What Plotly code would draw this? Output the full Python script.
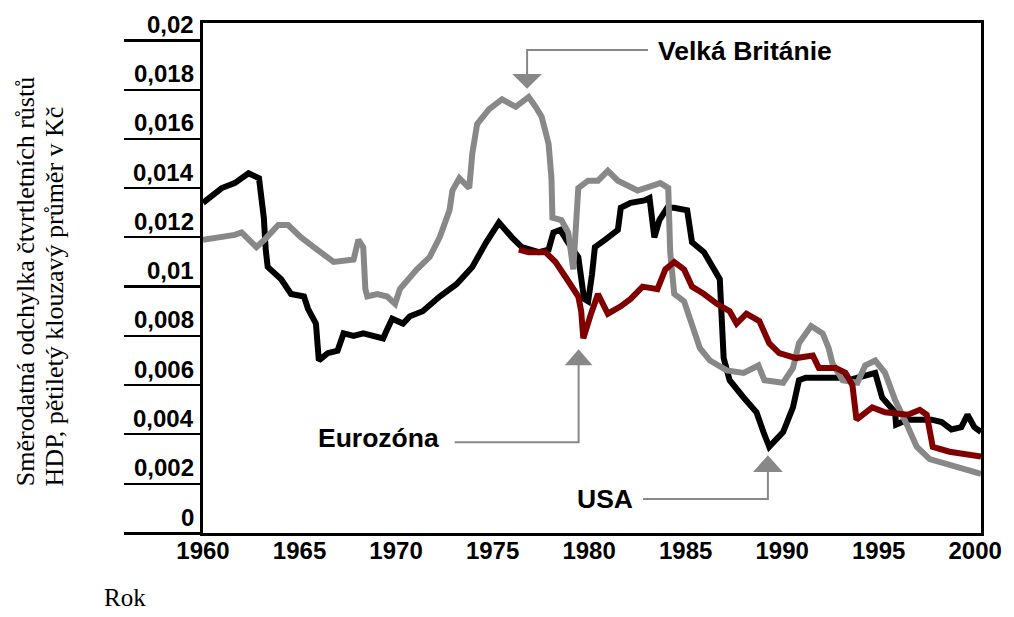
import plotly.graph_objects as go

# ---------------- data ----------------
usa_year = [1960.0, 1960.97, 1961.64, 1962.36, 1962.9, 1963.15, 1963.25, 1963.35, 1964.05, 1964.56,
            1965.23, 1965.44, 1965.85, 1966.0, 1966.46, 1966.97, 1967.28, 1967.8, 1968.3, 1969.33,
            1969.5, 1969.8, 1970.36, 1970.72, 1971.38, 1972.26, 1973.13, 1973.95, 1974.67, 1975.33,
            1976.0, 1976.51, 1977.4, 1977.9, 1978.15, 1978.5, 1978.9, 1979.44, 1979.74, 1979.95,
            1980.15, 1980.3, 1980.82, 1981.49, 1981.64, 1982.15, 1982.87, 1983.13, 1983.38, 1983.64,
            1984.05, 1984.4, 1985.08, 1985.33, 1985.95, 1986.46, 1986.77, 1986.97, 1987.28, 1988.0,
            1988.67, 1989.03, 1989.33, 1990.05, 1990.56, 1990.87, 1991.23, 1993.13, 1993.44, 1994.82,
            1995.18, 1995.85, 1995.9, 1996.5, 1997.74, 1998.26, 1998.77, 1999.28, 1999.6, 1999.95,
            2000.3]
usa_val = [0.0134, 0.0140, 0.0142, 0.0146, 0.0144, 0.0128, 0.0115, 0.0108, 0.0103, 0.0097,
           0.0096, 0.0091, 0.0085, 0.0070, 0.0073, 0.0074, 0.0081, 0.0080, 0.0081, 0.0079,
           0.0082, 0.0087, 0.0085, 0.0088, 0.0090, 0.0096, 0.0101, 0.0108, 0.0118, 0.0126,
           0.0120, 0.0116, 0.0114, 0.0115, 0.0122, 0.0123, 0.0118, 0.0112, 0.0095, 0.0094,
           0.0105, 0.0116, 0.0119, 0.0123, 0.0132, 0.0134, 0.0135, 0.0136, 0.0120, 0.0127,
           0.0132, 0.0132, 0.0131, 0.0118, 0.0114, 0.0107, 0.0103, 0.0071, 0.0062, 0.0055,
           0.0049, 0.0041, 0.0035, 0.0041, 0.0051, 0.0062, 0.0063, 0.0063, 0.0062, 0.0065,
           0.0055, 0.0049, 0.0044, 0.0046, 0.0046, 0.0045, 0.0042, 0.0043, 0.0048, 0.0043,
           0.0041]

uk_year = [1960.0, 1960.97, 1961.64, 1962.0, 1962.77, 1963.18, 1963.9, 1964.41, 1965.08, 1965.74,
           1966.46, 1966.77, 1967.8, 1968.05, 1968.3, 1968.41, 1968.51, 1969.03, 1969.54, 1969.95,
           1970.2, 1971.08, 1971.74, 1972.26, 1972.77, 1972.92, 1973.28, 1973.79, 1973.95, 1974.2,
           1974.82, 1975.49, 1976.2, 1976.87, 1977.23, 1977.54, 1977.9, 1978.05, 1978.1, 1978.56,
           1978.92, 1979.18, 1979.44, 1979.95, 1980.46, 1980.97, 1981.49, 1982.51, 1983.69, 1984.1,
           1984.2, 1984.41, 1984.92, 1985.44, 1985.74, 1986.26, 1987.13, 1988.0, 1988.77, 1989.08,
           1990.05, 1990.56, 1990.87, 1991.5, 1992.1, 1992.41, 1992.6, 1993.13, 1993.9, 1994.3,
           1994.82, 1995.33, 1995.85, 1996.46, 1996.97, 1997.64, 1998.56, 1999.59, 2000.3]
uk_val = [0.0119, 0.0120, 0.0121, 0.0122, 0.0116, 0.0119, 0.0125, 0.0125, 0.0120, 0.0116,
          0.0112, 0.0110, 0.0111, 0.0119, 0.0116, 0.0099, 0.0096, 0.0097, 0.0096, 0.0093,
          0.0099, 0.0107, 0.0112, 0.0120, 0.0131, 0.0139, 0.0144, 0.0140, 0.0154, 0.0166,
          0.0172, 0.0176, 0.0173, 0.0177, 0.0173, 0.0169, 0.0158, 0.0144, 0.0128, 0.0127,
          0.0122, 0.0107, 0.0140, 0.0143, 0.0143, 0.0147, 0.0143, 0.0139, 0.0142, 0.0140,
          0.0114, 0.0097, 0.0094, 0.0082, 0.0075, 0.0070, 0.0066, 0.0065, 0.0068, 0.0062,
          0.0061, 0.0067, 0.0077, 0.0084, 0.0081, 0.0075, 0.0069, 0.0062, 0.0061, 0.0068,
          0.0070, 0.0065, 0.0054, 0.0044, 0.0035, 0.0030, 0.0028, 0.00256, 0.0024]

ez_year = [1976.36, 1976.87, 1977.74, 1978.26, 1978.77, 1979.18, 1979.44, 1979.59, 1979.7, 1980.1,
           1980.46, 1980.97, 1981.64, 1982.15, 1982.77, 1983.54, 1983.95, 1984.41, 1984.92, 1985.33,
           1985.95, 1986.62, 1987.28, 1987.64, 1988.15, 1988.82, 1989.33, 1989.85, 1990.72, 1991.59,
           1991.9, 1992.77, 1993.28, 1993.64, 1993.85, 1994.67, 1995.33, 1996.51, 1997.13, 1997.49,
           1997.8, 1998.67, 1999.59, 2000.3]
ez_val = [0.0115, 0.0114, 0.0114, 0.0110, 0.0104, 0.0099, 0.0096, 0.0090, 0.0079, 0.0089,
          0.0097, 0.0089, 0.0092, 0.0095, 0.0100, 0.0099, 0.0107, 0.0110, 0.0107, 0.0100,
          0.0097, 0.0093, 0.0090, 0.0085, 0.0089, 0.0086, 0.0077, 0.0073, 0.0071, 0.0072,
          0.0067, 0.0067, 0.0065, 0.0060, 0.0046, 0.0051, 0.0049, 0.0048, 0.0050, 0.0048,
          0.0035, 0.0033, 0.0032, 0.0031]

x_tick_vals = [1960, 1965, 1970, 1975, 1980, 1985, 1990, 1995, 2000]
y_tick_vals = [0, 0.002, 0.004, 0.006, 0.008, 0.01, 0.012, 0.014, 0.016, 0.018, 0.02]
y_tick_text = ["0", "0,002", "0,004", "0,006", "0,008", "0,01", "0,012", "0,014", "0,016", "0,018", "0,02"]

series_names = ["USA", "Velká Británie", "Eurozóna"]
y_title_lines = ["Směrodatná odchylka čtvrtletních růstů", "HDP, pětiletý klouzavý průměr v Kč"]
x_title = "Rok"

# ---------------- layout geometry (page pixels) ----------------
OFF = 8                      # default body margin of the html page
W, H = 1014 - OFF, 617 - OFF
PLOT_X0, PLOT_X1 = 203, 988  # plot area on the page
PLOT_Y0, PLOT_Y1 = 22, 533
PW, PH = PLOT_X1 - PLOT_X0, PLOT_Y1 - PLOT_Y0
L, T = PLOT_X0 - OFF, PLOT_Y0 - OFF
R, B = W - L - PW, H - T - PH


def px(x):
    return (x - PLOT_X0) / PW


def py(y):
    return (PLOT_Y1 - y) / PH


BOLD = dict(family="Liberation Sans, Arial, sans-serif", size=24, color="black", weight="bold")
LABEL = dict(family="Liberation Sans, Arial, sans-serif", size=26.5, color="black", weight="bold")
SERIF = dict(family="Liberation Serif, Times New Roman, serif", size=25, color="black")
TITLE = dict(family="Liberation Serif, Times New Roman, serif", size=26, color="black")
GRAY = "#888888"
LW = 6

fig = go.Figure()
fig.add_trace(go.Scatter(x=usa_year, y=usa_val, mode="lines", name=series_names[0],
                         line=dict(color="#000000", width=LW)))
fig.add_trace(go.Scatter(x=uk_year, y=uk_val, mode="lines", name=series_names[1],
                         line=dict(color=GRAY, width=LW)))
fig.add_trace(go.Scatter(x=ez_year, y=ez_val, mode="lines", name=series_names[2],
                         line=dict(color="#800000", width=LW)))

annotations = []
for v, t in zip(y_tick_vals, y_tick_text):
    annotations.append(dict(xref="paper", yref="y", x=px(196), y=v, text=t, showarrow=False,
                            xanchor="right", yanchor="middle", yshift=16, font=BOLD))

annotations += [
    dict(xref="paper", yref="paper", x=px(24), y=py(488), text=y_title_lines[0], textangle=-90,
         showarrow=False, xanchor="center", yanchor="bottom", font=TITLE),
    dict(xref="paper", yref="paper", x=px(53), y=py(488), text=y_title_lines[1], textangle=-90,
         showarrow=False, xanchor="center", yanchor="bottom", font=TITLE),
    dict(xref="paper", yref="paper", x=px(101), y=py(598), text=x_title, showarrow=False,
         xanchor="left", yanchor="middle", font=SERIF),
    dict(xref="paper", yref="paper", x=px(660), y=py(50), text=series_names[1], showarrow=False,
         xanchor="left", yanchor="middle", font=LABEL),
    dict(xref="paper", yref="paper", x=px(443), y=py(438), text=series_names[2], showarrow=False,
         xanchor="right", yanchor="middle", font=LABEL),
    dict(xref="paper", yref="paper", x=px(639), y=py(499), text=series_names[0], showarrow=False,
         xanchor="right", yanchor="middle", font=LABEL),
]


def path(points, close=False):
    s = "M " + " L ".join(f"{px(a):.5f},{py(b):.5f}" for a, b in points)
    return s + (" Z" if close else "")


shapes = []
connectors = [
    [(652, 49), (530, 49), (530, 74)],
    [(457, 442), (582, 442), (582, 364)],
    [(647, 499), (773, 499), (773, 471)],
]
arrows = [
    [(515, 73), (545, 73), (530, 88)],
    [(568, 365), (596, 365), (582, 349)],
    [(758, 472), (788, 472), (773, 455)],
]
for c in connectors:
    shapes.append(dict(type="path", xref="paper", yref="paper", path=path(c),
                       line=dict(color=GRAY, width=2)))
for a in arrows:
    shapes.append(dict(type="path", xref="paper", yref="paper", path=path(a, True),
                       line=dict(color=GRAY, width=0), fillcolor=GRAY))

fig.update_layout(
    width=W, height=H, autosize=False,
    margin=dict(l=L, r=R, t=T, b=B, pad=0),
    paper_bgcolor="white", plot_bgcolor="white",
    showlegend=False,
    annotations=annotations,
    shapes=shapes,
    xaxis=dict(range=[1960, 2000.3], tickvals=x_tick_vals, ticktext=[str(v) for v in x_tick_vals],
               showgrid=False, zeroline=False, showline=True, linewidth=3, linecolor="black",
               mirror=True, ticks="", tickfont=BOLD, ticklabelstandoff=-6),
    yaxis=dict(range=[0, 0.0207], tick0=0, dtick=0.01, showticklabels=False,
               showgrid=False, zeroline=False, showline=True, linewidth=3, linecolor="black",
               mirror=True, ticks="outside", ticklen=76, tickwidth=3, tickcolor="black",
               minor=dict(tick0=0, dtick=0.002, ticks="outside", ticklen=76, tickwidth=1.5,
                          tickcolor="black", showgrid=False)),
)

fig.write_html("out.html")
